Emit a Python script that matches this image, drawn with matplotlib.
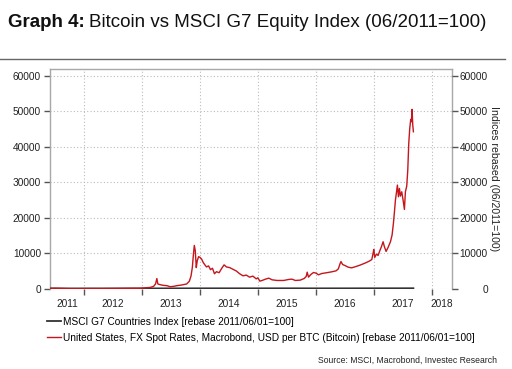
import matplotlib
matplotlib.use("Agg")
import matplotlib.pyplot as plt
from matplotlib.lines import Line2D
from matplotlib.ticker import FixedLocator, FixedFormatter, NullFormatter

plt.rcParams["font.family"] = ["Liberation Sans", "DejaVu Sans"]

# Bitcoin, USD per BTC rebased 2011/06/01=100 (decimal year, index)
btc_t = [2011.41, 2011.50, 2011.60, 2011.75, 2011.90, 2012.10, 2012.30, 2012.50,
         2012.70, 2012.80, 2012.97, 2013.14, 2013.20, 2013.234, 2013.257, 2013.274,
         2013.314, 2013.371, 2013.43, 2013.486, 2013.543, 2013.60, 2013.686, 2013.771,
         2013.817, 2013.846, 2013.869, 2013.886, 2013.903, 2013.92, 2013.937, 2013.954,
         2013.977, 2014.0, 2014.029, 2014.057, 2014.086, 2014.114, 2014.149, 2014.183,
         2014.217, 2014.251, 2014.286, 2014.331, 2014.377, 2014.417, 2014.457, 2014.514,
         2014.571, 2014.629, 2014.686, 2014.743, 2014.80, 2014.857, 2014.914, 2014.971,
         2015.0, 2015.034, 2015.074, 2015.131, 2015.189, 2015.246, 2015.331, 2015.446,
         2015.531, 2015.589, 2015.646, 2015.731, 2015.80, 2015.834, 2015.851, 2015.874,
         2015.914, 2015.96, 2016.006, 2016.046, 2016.103, 2016.177, 2016.274, 2016.349,
         2016.389, 2016.417, 2016.434, 2016.463, 2016.503, 2016.56, 2016.617, 2016.691,
         2016.76, 2016.846, 2016.92, 2016.966, 2016.988, 2017.0, 2017.017, 2017.046,
         2017.075, 2017.104, 2017.132, 2017.161, 2017.184, 2017.213, 2017.247, 2017.288,
         2017.316, 2017.339, 2017.357, 2017.374, 2017.391, 2017.408, 2017.426, 2017.443,
         2017.46, 2017.483, 2017.506, 2017.529, 2017.546, 2017.569, 2017.587, 2017.604,
         2017.621, 2017.638, 2017.65, 2017.661, 2017.673, 2017.684]
btc_v = [100, 150, 110, 40, 30, 55, 50, 80,
         110, 130, 140, 380, 670, 1350, 2880, 1350,
         1150, 960, 870, 580, 670, 870, 1060, 1350,
         2110, 3560, 5960, 9330, 12210, 10770, 5960, 7880,
         9040, 8850, 8370, 7400, 6730, 6150, 6440, 5380,
         5770, 4230, 4810, 4520, 5770, 6730, 6150, 5960,
         5480, 5000, 4230, 3650, 3850, 3270, 3560, 2790,
         3090, 2150, 2340, 2710, 2990, 2520, 2340, 2340,
         2620, 2710, 2340, 2430, 2900, 3460, 4680, 3270,
         4020, 4580, 4390, 3930, 4300, 4490, 4770, 5050,
         5610, 7010, 7670, 6830, 6550, 6080, 5890, 6260,
         6640, 7200, 7760, 8230, 9950, 11080, 8830, 9770,
         9390, 10700, 11830, 13240, 11830, 10520, 11640, 13240,
         15120, 18400, 21690, 24980, 27040, 29200, 25920, 28260,
         26100, 27320, 24980, 22350, 27320, 28920, 33430, 40940,
         45170, 47700, 47040, 50520, 46100, 44230]

# MSCI G7 Countries Index rebased 2011/06/01=100
msci_t = [2011.41, 2011.75, 2012.0, 2012.5, 2013.0, 2013.5, 2014.0, 2014.5,
          2015.0, 2015.5, 2016.0, 2016.5, 2017.0, 2017.5, 2017.684]
msci_v = [100, 85, 92, 95, 105, 115, 125, 130, 128, 132, 120, 125, 135, 145, 150]

year_ticks = [2012, 2013, 2014, 2015, 2016, 2017, 2018]
year_labels = [2011, 2012, 2013, 2014, 2015, 2016, 2017, 2018]
y_ticks = [0, 10000, 20000, 30000, 40000, 50000, 60000]

RED = "#c4161c"
DARK = "#333333"
GRAY = "#a8a8a8"
XMIN, XMAX = 2011.413, 2018.345

fig = plt.figure(figsize=(5.12, 3.69), dpi=100)
ax = fig.add_axes([50 / 512, 1 - 289.3 / 369, 401.7 / 512, 220.3 / 369])

ax.plot(msci_t, msci_v, color=DARK, lw=1.3,
        label="MSCI G7 Countries Index [rebase 2011/06/01=100]", zorder=3)
ax.plot(btc_t, btc_v, color=RED, lw=1.0,
        label="United States, FX Spot Rates, Macrobond, USD per BTC (Bitcoin) [rebase 2011/06/01=100]",
        zorder=4)

ax.set_xlim(XMIN, XMAX)
ax.set_ylim(-150, 61900)

# year boundaries carry ticks/grid, labels sit mid-way in the visible part
ax.xaxis.set_major_locator(FixedLocator(year_ticks))
ax.xaxis.set_major_formatter(NullFormatter())
centers = [(max(y, XMIN) + min(y + 1, XMAX)) / 2 for y in year_labels]
ax.xaxis.set_minor_locator(FixedLocator(centers))
ax.xaxis.set_minor_formatter(FixedFormatter([str(y) for y in year_labels]))
ax.tick_params(axis="x", which="major", length=4, width=1, color="#555555", direction="out")
ax.tick_params(axis="x", which="minor", length=0, pad=7, labelsize=7.3, labelcolor="#222222")

ax.set_yticks(y_ticks)
ax.tick_params(axis="y", length=4, width=1, color="#555555", pad=2.5,
               labelsize=7.3, labelcolor="#222222")

ax.grid(True, which="major", color="#bbbbbb", linestyle=(0, (1, 2)), lw=0.8)
ax.set_axisbelow(True)

for side in ["left", "top", "right"]:
    ax.spines[side].set_color(GRAY)
    ax.spines[side].set_linewidth(1.0)
ax.spines["bottom"].set_visible(False)

ax2 = ax.twinx()
ax2.set_ylim(ax.get_ylim())
ax2.set_yticks(y_ticks)
ax2.tick_params(axis="y", length=4, width=1, color="#555555", pad=22,
                labelsize=7.3, labelcolor="#222222")
for t in ax2.yaxis.get_major_ticks():
    t.label2.set_horizontalalignment("right")
for side in ax2.spines:
    ax2.spines[side].set_visible(False)

fig.text(494 / 512, 1 - 179 / 369, "Indices rebased (06/2011=100)", rotation=270,
         ha="center", va="center", fontsize=7.6, color="#222222")

# title: bold lead-in followed by regular text
t1 = fig.text(8 / 512, 1 - 27 / 369, "Graph 4:", fontsize=13.5, fontweight="bold",
              color="#111111", va="baseline")
fig.canvas.draw()
bb = t1.get_window_extent()
fig.text(bb.x1 / 512 + 4 / 512, 1 - 27 / 369, "Bitcoin vs MSCI G7 Equity Index (06/2011=100)",
         fontsize=13.5, color="#111111", va="baseline")

fig.add_artist(Line2D([0, 505 / 512], [1 - 59.3 / 369] * 2, color="#666666", lw=1.0))

fig.legend(loc="upper left", bbox_to_anchor=(47 / 512, 1 - 317 / 369), frameon=False,
           fontsize=7.3, handlelength=1.35, handletextpad=0.25, labelspacing=0.55,
           borderpad=0, borderaxespad=0)

fig.text(497 / 512, 1 - 360 / 369, "Source: MSCI, Macrobond, Investec Research",
         ha="right", va="center", fontsize=6.2, color="#222222")

fig.savefig("out.png", dpi=100)
